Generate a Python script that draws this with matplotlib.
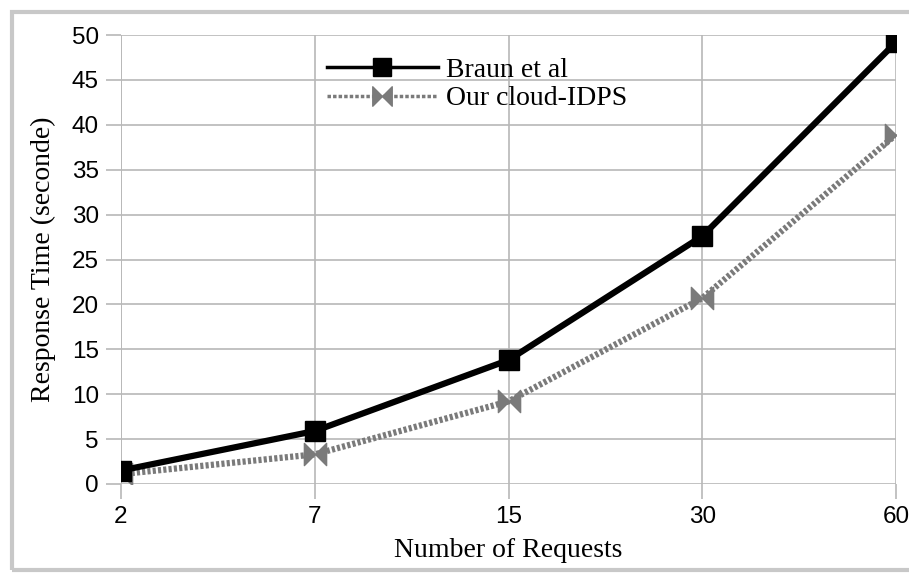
import matplotlib
matplotlib.use("Agg")
import matplotlib.pyplot as plt
from matplotlib.path import Path
from matplotlib.lines import Line2D
from matplotlib.patches import Rectangle

categories = ["2", "7", "15", "30", "60"]
braun = [1.5, 5.9, 13.8, 27.6, 49.2]
ours = [1.1, 3.3, 9.2, 20.7, 38.9]
yticks = [0, 5, 10, 15, 20, 25, 30, 35, 40, 45, 50]

bowtie = Path([(-1, 1), (-1, -1), (0, 0), (1, -1), (1, 1), (0, 0), (-1, 1)],
              [Path.MOVETO, Path.LINETO, Path.LINETO, Path.LINETO, Path.LINETO, Path.LINETO, Path.CLOSEPOLY])

fig = plt.figure(figsize=(9.09, 5.74), dpi=100)
ax = fig.add_axes([121/909, 1-484/574, (896-121)/909, (484-35)/574])

x = list(range(len(categories)))
grid_c = "#b8b8b8"
ax.plot(x, braun, color="black", lw=4.5, marker="s", ms=14, mfc="black", mec="black",
        solid_joinstyle="miter", zorder=4, label="Braun et al")
ax.plot(x, ours, color="#7a7a7a", lw=4.5, ls=(0, (0.5, 0.35)), marker=bowtie, ms=16,
        mfc="#7a7a7a", mec="#7a7a7a", zorder=3, label="Our cloud-IDPS")

ax.set_xlim(0, len(categories) - 1)
ax.set_ylim(0, 50)
ax.set_xticks(x)
ax.set_xticklabels(categories)
ax.set_yticks(yticks)
ax.grid(True, color=grid_c, lw=1.2)
ax.set_axisbelow(True)
for s in ax.spines.values():
    s.set_visible(False)
ax.axvline(0, color=grid_c, lw=1.2, zorder=1)
ax.tick_params(axis="both", length=11, width=1.2, color=grid_c, labelsize=17.5, pad=5)
for lab in ax.get_xticklabels() + ax.get_yticklabels():
    lab.set_fontfamily("Liberation Sans")

ax.set_xlabel("Number of Requests", fontfamily="Liberation Serif", fontsize=20, labelpad=7)
ax.set_ylabel("Response Time (seconde)", fontfamily="Liberation Serif", fontsize=20, labelpad=11)

h1 = Line2D([], [], color="black", lw=2.5, marker="s", ms=13, mfc="black", mec="black")
h2 = Line2D([], [], color="#7a7a7a", lw=2.5, ls=(0, (1, 0.6)), marker=bowtie, ms=14,
            mfc="#7a7a7a", mec="#7a7a7a")
leg = ax.legend([h1, h2], ["Braun et al", "Our cloud-IDPS"], loc="upper left",
                bbox_to_anchor=(0.233, 1.005), frameon=False, handlelength=4.0,
                handletextpad=0.3, labelspacing=0.1,
                prop={"family": "Liberation Serif", "size": 20})

# outer frame
fig.patches.append(Rectangle((12/909, 4/574), 1.2, 1 - 16/574, transform=fig.transFigure,
                             fill=False, ec="#c8c8c8", lw=3, zorder=0))
fig.savefig("out.png", dpi=100, facecolor="white")
